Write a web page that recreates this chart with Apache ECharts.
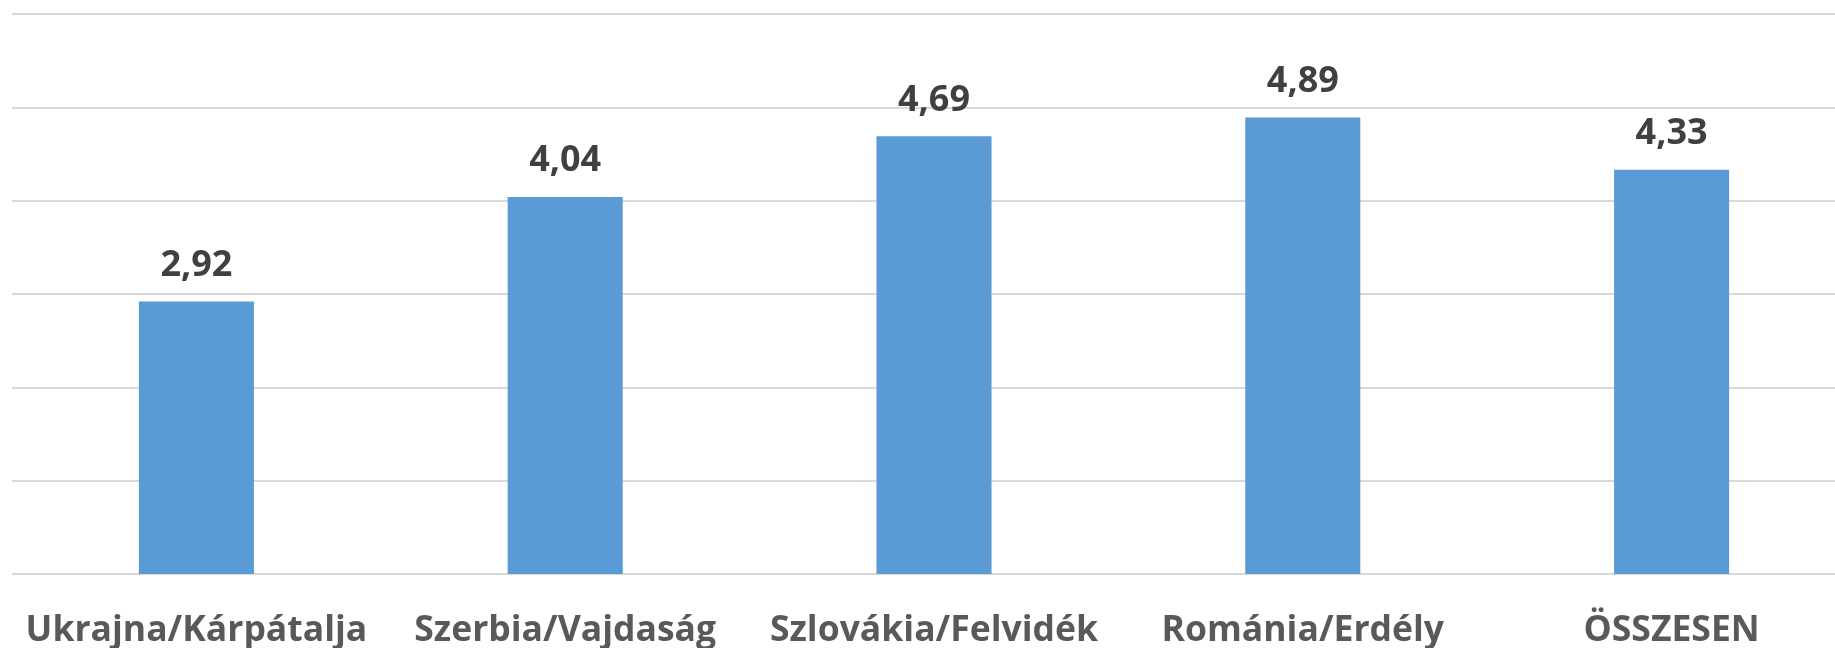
<!DOCTYPE html>
<html>
<head>
<meta charset="utf-8">
<script src="https://cdn.jsdelivr.net/npm/echarts@6/dist/echarts.min.js"></script>
<style>
  html, body { margin: 0; padding: 0; background: #fff; }
  #chart { width: 1835px; height: 648px; }
</style>
</head>
<body>
<div id="chart"></div>
<script>
// regions and their values
var regions = ["Ukrajna/Kárpátalja", "Szerbia/Vajdaság", "Szlovákia/Felvidék", "Románia/Erdély", "ÖSSZESEN"];
var values = [2.92, 4.04, 4.69, 4.89, 4.33];

var mychart = echarts.init(document.getElementById("chart"));
var option = {
  animation: false,
  grid: {
    left: 12,
    top: 14,
    width: 1844,
    height: 560,
    containLabel: false,
    outerBoundsMode: "none"
  },
  xAxis: {
    type: "category",
    data: regions,
    axisLine: { show: false },
    axisTick: { show: false },
    axisLabel: {
      interval: 0,
      margin: 39,
      color: "#595959",
      fontFamily: "Open Sans",
      fontWeight: "bold",
      fontSize: 35.5
    }
  },
  yAxis: {
    type: "value",
    min: 0,
    max: 6,
    interval: 1,
    axisLabel: { show: false },
    axisLine: { show: false },
    axisTick: { show: false },
    splitLine: { lineStyle: { color: "#d9d9d9", width: 2 } }
  },
  series: [
    {
      type: "bar",
      data: values,
      barWidth: "31.2%",
      itemStyle: { color: "#5b9bd5" },
      label: {
        show: true,
        position: "top",
        distance: 18,
        color: "#404040",
        fontFamily: "Open Sans",
        fontWeight: "bold",
        fontSize: 36,
        formatter: function (p) {
          return p.value.toFixed(2).replace(".", ",");
        }
      }
    }
  ]
};
mychart.setOption(option);
</script>
</body>
</html>
